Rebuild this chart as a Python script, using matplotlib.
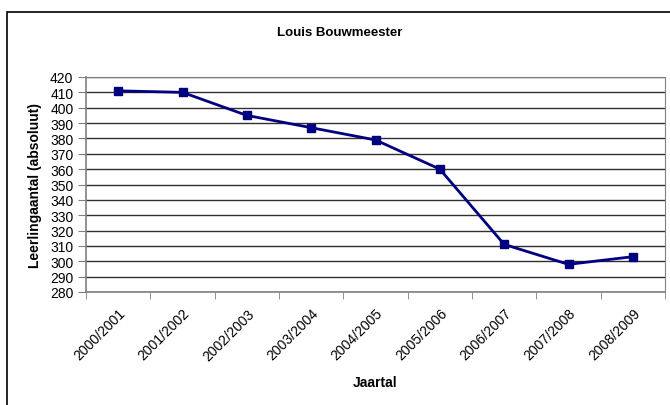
import matplotlib
matplotlib.use("Agg")
import matplotlib.pyplot as plt
from matplotlib.patches import Rectangle
from matplotlib.transforms import ScaledTranslation

plt.rcParams['font.family'] = ['Liberation Sans', 'DejaVu Sans']

categories = ["2000/2001", "2001/2002", "2002/2003", "2003/2004", "2004/2005",
              "2005/2006", "2006/2007", "2007/2008", "2008/2009"]
values = [411, 410, 395, 387, 379, 360, 311, 298, 303]
y_ticks = list(range(280, 421, 10))

W, H = 670, 406
fig = plt.figure(figsize=(W / 100, H / 100), dpi=100)

# outer chart frame (extends past right/bottom edges)
fig.patches.append(Rectangle((7 / W, -0.1), 1.2, 1 - 13 / H + 0.1, transform=fig.transFigure,
                             fill=False, edgecolor='black', linewidth=1.2))

left, right, top, bottom = 86, 665, 78, 293
ax = fig.add_axes([left / W, 1 - bottom / H, (right - left) / W, (bottom - top) / H])

x = list(range(len(categories)))
ax.plot(x, values, color='#000080', linewidth=2, marker='s', markersize=5.5,
        markerfacecolor='#000080', markeredgecolor='#000080', zorder=3)

ax.set_xlim(-0.5, len(categories) - 0.5)
ax.set_ylim(280, 420)
ax.set_yticks(y_ticks)
ax.set_yticklabels([str(v) for v in y_ticks], fontsize=10)
ax.yaxis.grid(True, color='#303030', linewidth=1)
ax.set_axisbelow(True)

ax.set_xticks(x)
ax.set_xticklabels(categories, rotation=45, ha='right', rotation_mode='anchor', fontsize=10)
offset = ScaledTranslation(-5 / 100, -6 / 100, fig.dpi_scale_trans)
for lbl in ax.get_xticklabels():
    lbl.set_transform(lbl.get_transform() + offset)
ax.set_xticks([i - 0.5 for i in range(len(categories) + 1)], minor=True)
ax.tick_params(axis='x', which='major', length=0, pad=10)
ax.tick_params(axis='x', which='minor', length=5, color='#808080', direction='out')
ax.tick_params(axis='y', length=6, color='#808080', pad=3)

for s in ['top', 'right']:
    ax.spines[s].set_color('#808080')
for s in ['left', 'bottom']:
    ax.spines[s].set_color('#808080')
    ax.spines[s].set_linewidth(1.2)

ax.set_xlabel("Jaartal", fontsize=10, fontweight='bold', labelpad=9)
ax.set_ylabel("Leerlingaantal (absoluut)", fontsize=10, fontweight='bold', labelpad=6)

fig.text(340 / W, 1 - 33 / H, "Louis Bouwmeester", ha='center', va='center',
         fontsize=9.5, fontweight='bold')

fig.savefig("out.png", dpi=100, facecolor='white')
